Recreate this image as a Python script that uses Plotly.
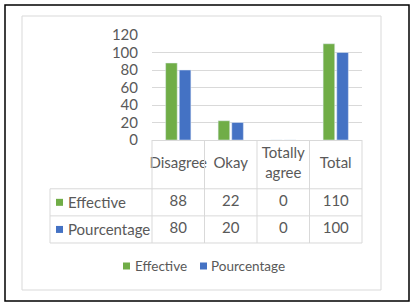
import plotly.graph_objects as go

# ---- data ----
categories = ["Disagree", "Okay", "Totally agree", "Total"]
header_labels = ["Disagree", "Okay", "Totally<br>agree", "Total"]
effective = [88, 22, 0, 110]
pourcentage = [80, 20, 0, 100]
series_names = ["Effective", "Pourcentage"]
y_ticks = [0, 20, 40, 60, 80, 100, 120]

# ---- styles ----
W, H = 413, 305
GREEN = "#70AD47"
BLUE = "#4472C4"
SERIES_COLORS = [GREEN, BLUE]
GRID = "#D9D9D9"
TXT = "#595959"
FONT = "Lato"

def px_x(p):
    return p / W

def px_y(p):
    return 1 - p / H

# geometry (pixels)
plot_l, plot_r, plot_t, plot_b = 152, 362, 35, 140
cat_w = (plot_r - plot_l) / len(categories)
tab_l, tab_r = 40, 372           # x2 domain in px
row_px = 27.1                    # pixel height of one table row unit
hdr_h = 1.8                      # header height in row units
tab_left_edge = (50 - plot_l) / cat_w - 0.5

def x2_from_px(p):
    return (p - plot_l) / cat_w - 0.5

fig = go.Figure()
fig.add_trace(go.Bar(x=categories, y=effective, name=series_names[0],
                     marker_color=GREEN, xaxis="x", yaxis="y"))
fig.add_trace(go.Bar(x=categories, y=pourcentage, name=series_names[1],
                     marker_color=BLUE, xaxis="x", yaxis="y"))

# table: header texts
fig.add_trace(go.Scatter(x=categories, y=[hdr_h / 2] * len(categories),
                         text=header_labels, mode="text",
                         textfont=dict(family=FONT, size=15, color=TXT),
                         xaxis="x2", yaxis="y2", showlegend=False, hoverinfo="skip"))
# table values
for r, vals in enumerate([effective, pourcentage]):
    fig.add_trace(go.Scatter(x=categories, y=[hdr_h + r + 0.5] * len(categories),
                             text=[str(v) for v in vals], mode="text",
                             textfont=dict(family=FONT, size=15, color=TXT),
                             xaxis="x2", yaxis="y2", showlegend=False, hoverinfo="skip"))

shapes = []
annotations = []
n = len(categories)
# table grid lines
for i in range(n + 1):
    shapes.append(dict(type="line", xref="x2", yref="y2", x0=i - 0.5, x1=i - 0.5,
                       y0=0, y1=hdr_h + 2, line=dict(color=GRID, width=1)))
shapes.append(dict(type="line", xref="x2", yref="y2", x0=tab_left_edge, x1=tab_left_edge,
                   y0=hdr_h, y1=hdr_h + 2, line=dict(color=GRID, width=1)))
for yy in [hdr_h, hdr_h + 1, hdr_h + 2]:
    shapes.append(dict(type="line", xref="x2", yref="y2", x0=tab_left_edge, x1=n - 0.5,
                       y0=yy, y1=yy, line=dict(color=GRID, width=1)))

# table row keys: colour square + series name
sq = 3.5 / row_px
for r, name in enumerate(series_names):
    yc = hdr_h + r + 0.5
    shapes.append(dict(type="rect", xref="x2", yref="y2",
                       x0=x2_from_px(56), x1=x2_from_px(63), y0=yc - sq, y1=yc + sq,
                       fillcolor=SERIES_COLORS[r], line=dict(width=0)))
    annotations.append(dict(x=x2_from_px(65.5), y=yc, xref="x2", yref="y2",
                            text=name, showarrow=False, xanchor="left", yanchor="middle",
                            font=dict(family=FONT, size=15, color=TXT)))

# legend (Excel style: small squares)
leg_y = 266
leg_sq = [123, 200]
leg_txt = [132.5, 209.5]
for r, name in enumerate(series_names):
    shapes.append(dict(type="rect", xref="paper", yref="paper",
                       x0=px_x(leg_sq[r]), x1=px_x(leg_sq[r] + 7),
                       y0=px_y(leg_y + 3.5), y1=px_y(leg_y - 3.5),
                       fillcolor=SERIES_COLORS[r], line=dict(width=0)))
    annotations.append(dict(x=px_x(leg_txt[r]), y=px_y(leg_y), xref="paper", yref="paper",
                            text=name, showarrow=False, xanchor="left", yanchor="middle",
                            font=dict(family=FONT, size=13.5, color=TXT)))

# chart area border (grey) and outer black border
shapes.append(dict(type="rect", xref="paper", yref="paper",
                   x0=px_x(22), x1=px_x(381), y0=px_y(290), y1=px_y(16),
                   line=dict(color=GRID, width=1)))
shapes.append(dict(type="rect", xref="paper", yref="paper",
                   x0=px_x(5), x1=px_x(409), y0=px_y(301), y1=px_y(5),
                   line=dict(color="black", width=1.5)))

y2_lo, y2_hi = -0.15, hdr_h + 2 + 0.15
fig.update_layout(
    width=W, height=H,
    margin=dict(l=0, r=0, t=0, b=0, pad=0, autoexpand=False),
    paper_bgcolor="white", plot_bgcolor="rgba(0,0,0,0)",
    barmode="group", bargap=0.48, bargroupgap=0.15,
    font=dict(family=FONT, color=TXT),
    showlegend=False,
    xaxis=dict(domain=[px_x(plot_l), px_x(plot_r)], type="category",
               categoryorder="array", categoryarray=categories,
               range=[-0.5, n - 0.5], showticklabels=False, ticks="",
               showgrid=False, showline=True, linecolor=GRID, linewidth=1,
               zeroline=False, fixedrange=True, automargin=False),
    yaxis=dict(domain=[px_y(plot_b), px_y(plot_t)], range=[0, 120],
               tickvals=y_ticks, showgrid=True, gridcolor=GRID, gridwidth=1,
               zeroline=False, showline=False, ticks="",
               ticklabelstandoff=13, automargin=False,
               tickfont=dict(family=FONT, size=15, color=TXT)),
    xaxis2=dict(domain=[px_x(tab_l), px_x(tab_r)], type="category",
                categoryorder="array", categoryarray=categories,
                range=[x2_from_px(tab_l), x2_from_px(tab_r)], anchor="y2",
                visible=False, automargin=False),
    yaxis2=dict(domain=[px_y(plot_b + y2_hi * row_px), px_y(plot_b + y2_lo * row_px)],
                range=[y2_hi, y2_lo], anchor="x2", visible=False, automargin=False),
    shapes=shapes,
    annotations=annotations,
)

fig.write_html("out.html", config={"displayModeBar": False, "responsive": False},
               post_script="document.body.style.margin='0';document.body.style.overflow='hidden';")
